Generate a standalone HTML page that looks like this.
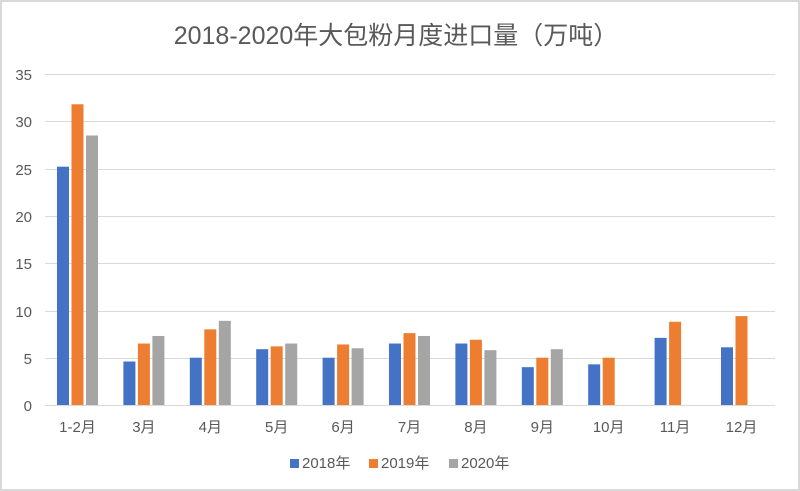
<!DOCTYPE html>
<html><head><meta charset="utf-8"><style>
html,body{margin:0;padding:0;background:#fff}
svg{display:block}
text{font-family:"Liberation Sans","Noto Sans CJK SC",sans-serif;fill:#595959}
</style></head><body>
<svg width="800" height="491" xmlns="http://www.w3.org/2000/svg">
<rect x="1" y="1" width="798" height="489" fill="#fff" stroke="#d9d9d9" stroke-width="2"/>
<text x="396" y="44" font-size="25" text-anchor="middle">2018-2020年大包粉月度进口量（万吨）</text>
<g stroke="#d9d9d9" stroke-width="1">
<line x1="45" x2="775" y1="74.5" y2="74.5"/>
<line x1="45" x2="775" y1="121.5" y2="121.5"/>
<line x1="45" x2="775" y1="169.5" y2="169.5"/>
<line x1="45" x2="775" y1="216.5" y2="216.5"/>
<line x1="45" x2="775" y1="263.5" y2="263.5"/>
<line x1="45" x2="775" y1="311.5" y2="311.5"/>
<line x1="45" x2="775" y1="358.5" y2="358.5"/>
</g>
<g font-size="15" text-anchor="end">
<text x="32" y="80">35</text><text x="32" y="127">30</text><text x="32" y="175">25</text>
<text x="32" y="222">20</text><text x="32" y="269">15</text><text x="32" y="317">10</text>
<text x="32" y="364">5</text><text x="32" y="411">0</text>
</g>
<g id="bars"></g>
<line x1="45" x2="775" y1="405.5" y2="405.5" stroke="#d9d9d9"/>
<g font-size="15" text-anchor="middle" id="xl"></g>
<g font-size="15">
<rect x="290" y="459" width="9" height="9" fill="#4472c4"/><text x="302" y="468">2018年</text>
<rect x="369" y="459" width="9" height="9" fill="#ed7d31"/><text x="381" y="468">2019年</text>
<rect x="449" y="459" width="9" height="9" fill="#a5a5a5"/><text x="461" y="468">2020年</text>
</g>
<script>
var d=[[25.2,31.8,28.5],[4.6,6.5,7.3],[5.0,8.0,8.9],[5.9,6.2,6.5],[5.0,6.4,6.0],[6.5,7.6,7.3],[6.5,6.9,5.8],[4.0,5.0,5.9],[4.3,5.0,0],[7.1,8.8,0],[6.1,9.4,0]];
var labs=["1-2月","3月","4月","5月","6月","7月","8月","9月","10月","11月","12月"];
var c=["#4472c4","#ed7d31","#a5a5a5"],ns="http://www.w3.org/2000/svg";
var g=document.getElementById("bars"),xl=document.getElementById("xl");
for(var i=0;i<11;i++){var x0=57+i*66.4;
for(var j=0;j<3;j++){var v=d[i][j];if(!v)continue;var h=v*9.457;
var r=document.createElementNS(ns,"rect");r.setAttribute("x",x0+j*14.5);r.setAttribute("y",405-h);r.setAttribute("width",12);r.setAttribute("height",h);r.setAttribute("fill",c[j]);g.appendChild(r);}
var t=document.createElementNS(ns,"text");t.setAttribute("x",x0+20.5);t.setAttribute("y",432);t.textContent=labs[i];xl.appendChild(t);}
</script>
</svg>
</body></html>
